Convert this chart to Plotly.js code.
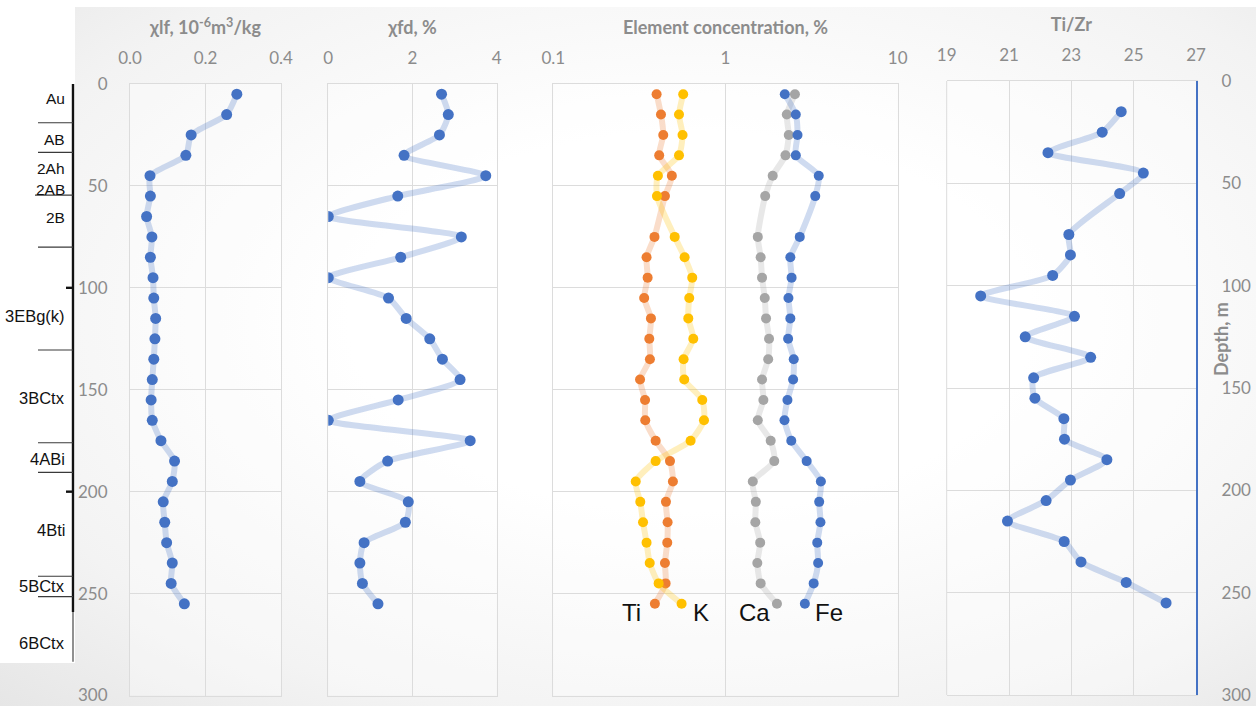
<!DOCTYPE html>
<html>
<head>
<meta charset="utf-8">
<script src="https://cdn.plot.ly/plotly-3.0.1.min.js"></script>
<style>
  html, body { margin: 0; padding: 0; background: #ffffff; }
  #wrap { position: relative; width: 1256px; height: 706px; overflow: hidden; }
  #bg { position: absolute; left: 0; top: 7px; width: 1256px; height: 699px;
        background: radial-gradient(ellipse at 55% 45%, #ffffff 35%, #f3f3f3 75%, #e6e6e6 100%); }
  #col { position: absolute; left: 0; top: 0; width: 75px; height: 663px; background: #ffffff; }
  #chart { position: absolute; left: 0; top: 0; width: 1256px; height: 706px; }
</style>
</head>
<body>
<div id="wrap">
  <div id="bg"></div>
  <div id="col"></div>
  <div id="chart"></div>
</div>
<script>
// Sampling depths (cm)
const depth = [5, 15, 25, 35, 45, 55, 65, 75, 85, 95, 105, 115, 125, 135, 145, 155, 165, 175, 185, 195, 205, 215, 225, 235, 245, 255];

// Low-frequency magnetic susceptibility, 10^-6 m3/kg
const chiLf = [0.283, 0.256, 0.162, 0.148, 0.053, 0.054, 0.044, 0.058, 0.054, 0.061, 0.063, 0.068, 0.066, 0.063, 0.059, 0.056, 0.059, 0.082, 0.118, 0.112, 0.088, 0.092, 0.097, 0.112, 0.109, 0.144];

// Frequency-dependent susceptibility, %
const chiFd = [2.69, 2.85, 2.64, 1.80, 3.74, 1.65, 0.0, 3.16, 1.72, 0.0, 1.43, 1.85, 2.41, 2.71, 3.13, 1.66, 0.0, 3.37, 1.41, 0.75, 1.90, 1.83, 0.85, 0.75, 0.81, 1.18];

// Element concentrations, % (no sample at 65 cm)
const ti = [0.398, 0.422, 0.435, 0.412, 0.488, 0.445, null, 0.387, 0.348, 0.353, 0.337, 0.369, 0.361, 0.364, 0.319, 0.341, 0.342, 0.393, 0.476, 0.495, 0.451, 0.461, 0.459, 0.445, 0.449, 0.389];
const k  = [0.568, 0.537, 0.563, 0.537, 0.405, 0.400, null, 0.507, 0.579, 0.641, 0.616, 0.608, 0.650, 0.571, 0.576, 0.733, 0.750, 0.627, 0.393, 0.301, 0.320, 0.332, 0.348, 0.363, 0.409, 0.556];
const ca = [2.53, 2.27, 2.33, 2.23, 1.88, 1.70, null, 1.54, 1.60, 1.63, 1.69, 1.72, 1.79, 1.77, 1.63, 1.66, 1.54, 1.83, 1.92, 1.44, 1.50, 1.49, 1.59, 1.53, 1.60, 1.99];
const fe = [2.21, 2.56, 2.62, 2.56, 3.48, 3.32, null, 2.70, 2.38, 2.42, 2.32, 2.38, 2.31, 2.49, 2.47, 2.29, 2.20, 2.41, 2.96, 3.58, 3.50, 3.56, 3.41, 3.45, 3.25, 2.89];

// Ti/Zr ratio
const tiZr = [null, 24.60, 23.99, 22.25, 25.31, 24.55, null, 22.92, 22.97, 22.40, 20.09, 23.10, 21.52, 23.62, 21.79, 21.83, 22.76, 22.78, 24.14, 22.97, 22.19, 20.95, 22.77, 23.31, 24.76, 26.04];

// Element labels and their positions (log10 of concentration, depth)
const elementNames = ['Ti', 'K', 'Ca', 'Fe'];
const elementLabelX = [-0.545, -0.143, 0.170, 0.600];
const elementLabelDepth = 259.5;

// Soil horizons
const horizonNames = ['Au', 'AB', '2Ah', '2AB', '2B', '3EBg(k)', '3BCtx', '4ABi', '4Bti', '5BCtx', '6BCtx'];
const horizonLabelDepth = [7, 27, 41.5, 52, 65.5, 114, 154, 184, 219, 246.5, 274];
const horizonLabelSize = [15.5, 15.5, 15.5, 15.5, 15.5, 16.5, 16.5, 16.5, 16.5, 16.5, 16.5];
const horizonBounds = [-3, 19, 33.5, 54.5, 80, 130.5, 176, 190.5, 241.5, 251.5];
const columnThickEnd = 259;
const columnEnd = 283.5;
const depthMarks = [100, 200];

const W = 1256, H = 706;
const px = v => v / W;

const blue = '#4472C4', orange = '#ED7D31', gold = '#FFC000', grey = '#A5A5A5';
const fade = (hex, a) => {
  const n = parseInt(hex.slice(1), 16);
  return `rgba(${(n >> 16) & 255},${(n >> 8) & 255},${n & 255},${a})`;
};

const tickFont = { family: 'Lato, sans-serif', size: 17, color: '#8c8c8c' };
const titleFont = { family: 'Lato, sans-serif', size: 18, color: '#8c8c8c', weight: 'bold' };
const gridColor = '#dcdcdc';

function series(x, color, xa, ya, msize) {
  return {
    x: x, y: depth, xaxis: xa, yaxis: ya,
    type: 'scatter', mode: 'lines+markers', connectgaps: true,
    line: { color: fade(color, 0.26), width: 6, shape: 'spline', smoothing: 0.6 },
    marker: { color: color, size: msize },
    hoverinfo: 'x+y', showlegend: false
  };
}

const traces = [
  series(chiLf, blue, 'x', 'y', 11),
  series(chiFd, blue, 'x2', 'y2', 11),
  series(ti, orange, 'x3', 'y3', 10),
  series(k, gold, 'x3', 'y3', 10),
  series(ca, grey, 'x3', 'y3', 10),
  series(fe, blue, 'x3', 'y3', 10),
  series(tiZr, blue, 'x4', 'y4', 11)
];

function xAxis(domain, range, dtick, title, extra) {
  return Object.assign({
    domain: domain, range: range, dtick: dtick, tick0: range[0], side: 'top',
    showgrid: true, gridcolor: gridColor, gridwidth: 1, zeroline: false,
    showline: true, linecolor: gridColor, mirror: true,
    ticks: '', tickfont: tickFont, ticklabelstandoff: 12,
    title: { text: title, font: titleFont, standoff: 7 },
    fixedrange: true
  }, extra || {});
}

function yAxis(domain, anchor, showLabels, extra) {
  return Object.assign({
    domain: domain, anchor: anchor, range: [300, 0], dtick: 50,
    showgrid: true, gridcolor: gridColor, gridwidth: 1, zeroline: false,
    showline: true, linecolor: gridColor, mirror: true,
    ticks: '', showticklabels: showLabels, tickfont: tickFont, ticklabelstandoff: 18,
    fixedrange: true
  }, extra || {});
}

const yDom = [1 - 695.5 / H, 1 - 84 / H];
const yDom4 = [1 - 695 / H, 1 - 81 / H];

const layout = {
  width: W, height: H,
  margin: { l: 0, r: 0, t: 0, b: 0 },
  paper_bgcolor: 'rgba(0,0,0,0)',
  plot_bgcolor: 'rgba(255,255,255,0.35)',
  showlegend: false,
  xaxis: xAxis([px(130), px(281)], [0, 0.4], 0.2, 'χlf, 10<sup>-6</sup>m<sup>3</sup>/kg', { tickformat: '.1f', anchor: 'y' }),
  xaxis2: xAxis([px(328.3), px(496.7)], [0, 4], 2, 'χfd, %', { anchor: 'y2' }),
  xaxis3: xAxis([px(553.3), px(897.7)], [-1, 1], 1, 'Element concentration, %', { type: 'log', tick0: 0, anchor: 'y3' }),
  xaxis4: xAxis([px(946.7), px(1196)], [19, 27], 2, 'Ti/Zr', { anchor: 'y4' }),
  yaxis: yAxis(yDom, 'x', true),
  yaxis2: yAxis(yDom, 'x2', false),
  yaxis3: yAxis(yDom, 'x3', false),
  yaxis4: yAxis(yDom4, 'x4', true, { side: 'right', mirror: false, linecolor: blue, linewidth: 2, ticklabelstandoff: 20 }),
  shapes: [],
  annotations: []
};

// Left border of the Ti/Zr panel
layout.shapes.push({ type: 'line', xref: 'x4 domain', yref: 'y4 domain', x0: 0, x1: 0, y0: 0, y1: 1,
  line: { color: gridColor, width: 1 }, layer: 'below' });

// Soil horizon column: main line, boundaries and depth marks
layout.shapes.push({ type: 'line', xref: 'paper', yref: 'y', x0: px(73), x1: px(73),
  y0: horizonBounds[0], y1: columnThickEnd, line: { color: '#111111', width: 2.4 } });
layout.shapes.push({ type: 'line', xref: 'paper', yref: 'y', x0: px(73), x1: px(73),
  y0: columnThickEnd, y1: columnEnd, line: { color: '#555555', width: 1.3 } });
horizonBounds.forEach((d, i) => {
  const x0 = (i === 3) ? px(35) : px(38);
  layout.shapes.push({ type: 'line', xref: 'paper', yref: 'y', x0: x0, x1: px(73), y0: d, y1: d,
    line: { color: '#3a3a3a', width: 1.2 } });
});
depthMarks.forEach(d => {
  layout.shapes.push({ type: 'line', xref: 'paper', yref: 'y', x0: px(66), x1: px(73), y0: d, y1: d,
    line: { color: '#111111', width: 2.4 } });
});
horizonNames.forEach((name, i) => {
  layout.annotations.push({ xref: 'paper', yref: 'y', x: px(67), y: horizonLabelDepth[i],
    xanchor: 'right', yanchor: 'middle', text: name, showarrow: false,
    font: { family: 'Liberation Sans, Arial, sans-serif', size: horizonLabelSize[i], color: '#111111' } });
});

// Element labels under the profiles
elementNames.forEach((name, i) => {
  layout.annotations.push({ xref: 'x3', yref: 'y3', x: elementLabelX[i], y: elementLabelDepth,
    xanchor: 'center', yanchor: 'middle', text: name, showarrow: false,
    font: { family: 'Liberation Sans, Arial, sans-serif', size: 24, color: '#111111' } });
});

// Depth axis title
layout.annotations.push({ xref: 'paper', yref: 'paper', x: px(1221), y: 1 - 339 / H,
  text: 'Depth, m', textangle: -90, showarrow: false, xanchor: 'center', yanchor: 'middle',
  font: titleFont });

Plotly.newPlot('chart', traces, layout, { staticPlot: true, displayModeBar: false });
</script>
</body>
</html>
